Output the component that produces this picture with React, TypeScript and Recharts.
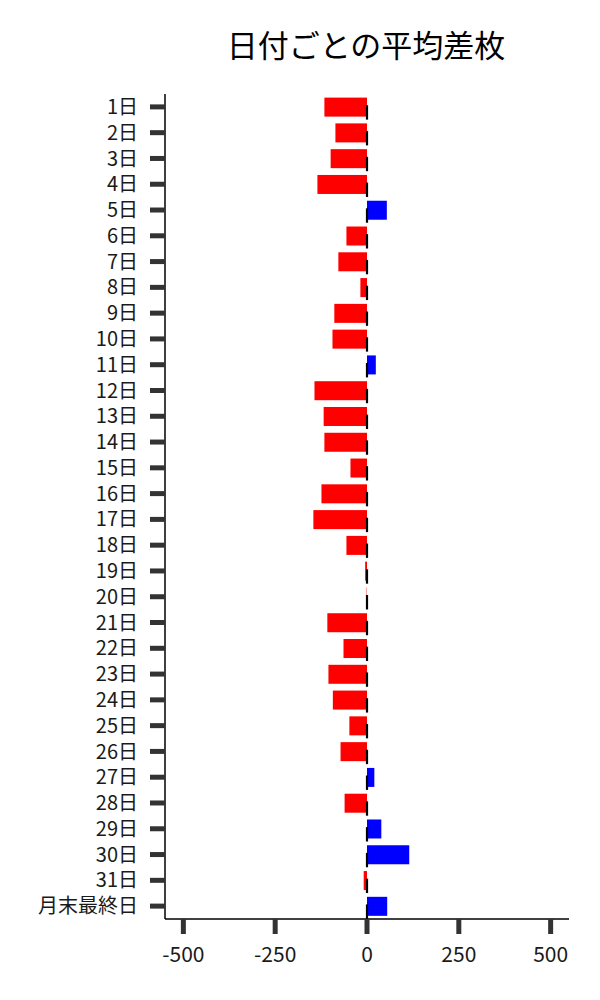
import { Bar, BarChart, Cell, XAxis, YAxis } from "recharts";

const days = [
  "1日", "2日", "3日", "4日", "5日", "6日", "7日", "8日", "9日", "10日",
  "11日", "12日", "13日", "14日", "15日", "16日", "17日", "18日", "19日", "20日",
  "21日", "22日", "23日", "24日", "25日", "26日", "27日", "28日", "29日", "30日",
  "31日", "月末最終日",
];

const avgDiff = [
  -116, -86, -99, -135, 54, -56, -78, -18, -89, -94,
  24, -143, -118, -116, -45, -124, -146, -56, -5, -1,
  -108, -64, -105, -93, -48, -72, 20, -61, 39, 115,
  -9, 55,
];

const xTicks = [-500, -250, 0, 250, 500];

const data = days.map((name, i) => ({ name, value: avgDiff[i] }));

const font = '"Noto Sans CJK JP", "Noto Sans", sans-serif';

// bar plus the little black mark sitting at zero
function BarWithMark(props: any) {
  const { x, y, width, height, fill, payload } = props;
  const left = Math.min(x, x + width);
  const w = Math.abs(width);
  const zeroX = payload.value < 0 ? left + w : left;
  return (
    <g>
      <rect x={left} y={y} width={w} height={height} fill={fill} />
      <line
        x1={zeroX}
        x2={zeroX}
        y1={y + height * 0.4}
        y2={y + height + 3}
        stroke="#000"
        strokeWidth={2.2}
      />
    </g>
  );
}

export default function App() {
  return (
    <div style={{ position: "absolute", left: 0, top: 0, background: "#fff" }}>
      <BarChart
        width={600}
        height={1000}
        data={data}
        layout="vertical"
        margin={{ top: 94, right: 31, left: 0, bottom: 31 }}
        barCategoryGap="14%"
      >
        <text
          x={366}
          y={43}
          textAnchor="middle"
          dominantBaseline="central"
          fontSize={31}
          fontFamily={font}
          fill="#000"
        >
          日付ごとの平均差枚
        </text>
        <XAxis
          type="number"
          domain={[-550, 550]}
          ticks={xTicks}
          allowDataOverflow
          height={50}
          axisLine={{ stroke: "#000", strokeWidth: 1.5 }}
          tickLine={{ stroke: "#333", strokeWidth: 5 }}
          tickSize={15}
          tickMargin={13}
          tick={{ fontSize: 21, fontFamily: font, fill: "#1a1a1a" }}
        />
        <YAxis
          type="category"
          dataKey="name"
          width={165}
          interval={0}
          axisLine={{ stroke: "#000", strokeWidth: 1.5 }}
          tickLine={{ stroke: "#333", strokeWidth: 5 }}
          tickSize={15}
          tickMargin={12}
          tick={{ fontSize: 20, fontFamily: font, fill: "#1a1a1a" }}
        />
        <Bar dataKey="value" isAnimationActive={false} shape={BarWithMark}>
          {data.map((d) => (
            <Cell key={d.name} fill={d.value < 0 ? "#ff0000" : "#0000ff"} />
          ))}
        </Bar>
      </BarChart>
    </div>
  );
}
